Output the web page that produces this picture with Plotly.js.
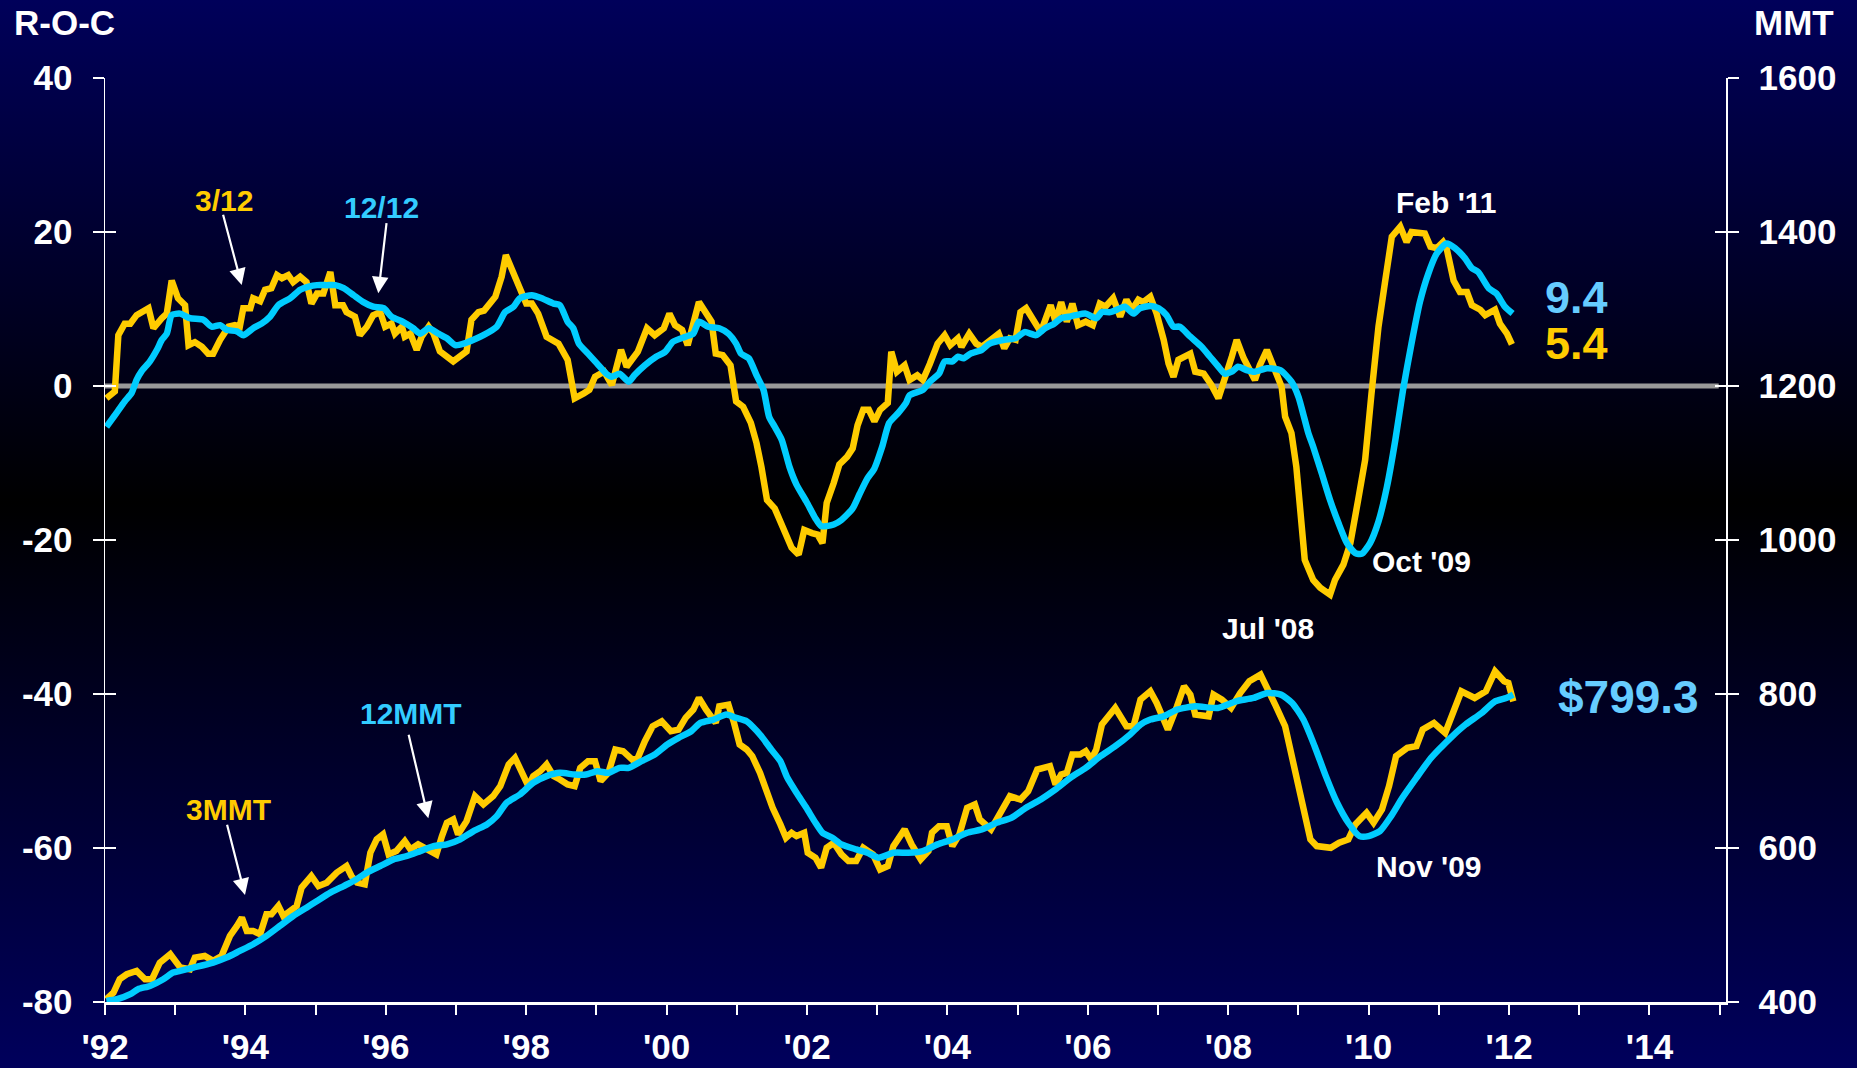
<!DOCTYPE html>
<html>
<head>
<meta charset="utf-8">
<script src="https://cdn.plot.ly/plotly-3.0.1.min.js"></script>
<style>
html,body{margin:0;padding:0;background:#000030;}
#chart{width:1857px;height:1068px;background:linear-gradient(to bottom,#00005A 0%,#000000 47%,#00005C 100%);}
</style>
</head>
<body>
<div id="chart"></div>
<script>
// ---- Data ----
// Upper panel: rate of change (left axis, R-O-C)
const roc3Years = [1992.02,1992.14,1992.19,1992.28,1992.36,1992.45,1992.62,1992.69,1992.81,1992.88,1992.95,1993.04,1993.14,1993.19,1993.28,1993.38,1993.47,1993.54,1993.64,1993.76,1993.85,1993.92,1993.97,1994.07,1994.11,1994.21,1994.28,1994.37,1994.45,1994.52,1994.61,1994.68,1994.78,1994.87,1994.94,1995.02,1995.11,1995.21,1995.28,1995.39,1995.44,1995.56,1995.63,1995.73,1995.82,1995.92,1995.99,1996.08,1996.13,1996.23,1996.27,1996.35,1996.44,1996.51,1996.61,1996.68,1996.77,1996.96,1997.15,1997.22,1997.32,1997.40,1997.56,1997.65,1997.71,1997.82,1997.94,1998.00,1998.08,1998.17,1998.29,1998.46,1998.59,1998.69,1998.82,1998.90,1998.98,1999.11,1999.22,1999.35,1999.43,1999.59,1999.72,1999.83,1999.96,2000.04,2000.12,2000.22,2000.30,2000.46,2000.64,2000.70,2000.80,2000.91,2000.99,2001.09,2001.20,2001.28,2001.35,2001.43,2001.54,2001.64,2001.78,2001.88,2001.96,2002.07,2002.15,2002.22,2002.28,2002.38,2002.46,2002.57,2002.65,2002.72,2002.80,2002.88,2002.96,2003.04,2003.15,2003.20,2003.28,2003.39,2003.46,2003.57,2003.65,2003.75,2003.86,2003.96,2004.04,2004.15,2004.20,2004.31,2004.41,2004.49,2004.60,2004.73,2004.81,2004.89,2004.97,2005.04,2005.12,2005.23,2005.33,2005.47,2005.54,2005.62,2005.70,2005.78,2005.86,2005.97,2006.07,2006.17,2006.25,2006.36,2006.46,2006.55,2006.63,2006.72,2006.79,2006.89,2006.98,2007.08,2007.15,2007.22,2007.29,2007.46,2007.53,2007.65,2007.76,2007.86,2007.95,2008.05,2008.12,2008.22,2008.38,2008.45,2008.55,2008.67,2008.76,2008.81,2008.90,2008.97,2009.02,2009.09,2009.21,2009.31,2009.45,2009.52,2009.64,2009.74,2009.85,2009.95,2010.04,2010.14,2010.23,2010.33,2010.45,2010.54,2010.61,2010.71,2010.80,2010.88,2010.97,2011.06,2011.11,2011.21,2011.30,2011.40,2011.47,2011.59,2011.66,2011.80,2011.87,2011.97,2012.04];
const roc3Values = [-1.6,-0.7,6.6,8.1,8.1,9.2,10.1,7.5,8.8,9.4,13.7,11.4,10.5,5.3,5.7,5.1,4.2,4.2,6.0,7.7,7.9,7.7,10.1,10.1,11.4,11.0,12.5,12.7,14.4,14.0,14.4,13.5,14.2,13.5,10.7,12.0,12.0,14.8,10.5,10.5,9.6,9.0,6.6,7.7,9.2,9.6,7.7,8.1,6.8,7.7,6.4,6.8,4.7,6.4,7.7,6.8,4.5,3.2,4.5,8.6,9.6,9.8,11.6,14.2,17.0,14.6,12.0,10.7,10.7,9.4,6.4,5.5,3.4,-1.6,-0.95,-0.5,1.2,1.86,0.13,4.7,2.5,4.45,7.5,6.6,7.5,9.4,7.9,7.3,5.3,10.9,8.35,4.2,4.0,2.7,-2.0,-2.7,-4.8,-7.4,-10.5,-14.8,-15.9,-18.2,-21.0,-21.9,-18.7,-19.1,-19.3,-20.4,-15.2,-12.6,-10.2,-9.2,-8.1,-5.1,-3.1,-3.1,-4.6,-3.1,-2.2,4.45,1.86,2.7,0.78,1.4,0.78,2.9,5.5,6.6,5.3,6.2,5.1,6.8,5.5,5.1,6.0,6.8,4.9,6.2,6.0,9.6,10.1,8.35,7.0,10.5,8.35,10.9,8.35,10.7,7.9,8.35,7.9,10.7,10.3,11.4,9.0,11.2,9.9,11.2,10.9,11.6,9.4,6.0,2.9,1.2,3.4,4.2,1.86,1.6,0.13,-1.6,0.78,3.8,6.0,3.6,0.78,2.7,4.67,2.07,-0.09,-4.0,-6.1,-10.5,-14.8,-22.6,-25.2,-26.2,-27.1,-25.2,-23.2,-20.4,-14.8,-9.6,-1.0,7.7,13.3,19.4,20.7,18.7,20.0,19.8,19.8,18.1,17.9,18.7,17.9,13.7,12.2,12.2,10.5,9.9,9.2,9.9,8.1,6.8,5.4];

const roc12Years = [1992.02,1992.14,1992.28,1992.38,1992.45,1992.52,1992.64,1992.74,1992.81,1992.88,1992.95,1993.07,1993.21,1993.40,1993.52,1993.64,1993.73,1993.88,1993.97,1994.11,1994.23,1994.35,1994.47,1994.64,1994.78,1994.90,1995.02,1995.16,1995.28,1995.40,1995.54,1995.68,1995.82,1995.97,1996.08,1996.25,1996.39,1996.49,1996.61,1996.75,1996.87,1996.99,1997.11,1997.25,1997.39,1997.58,1997.70,1997.82,1997.91,1998.08,1998.22,1998.39,1998.48,1998.59,1998.67,1998.75,1998.88,1999.01,1999.14,1999.22,1999.33,1999.46,1999.54,1999.69,1999.85,1999.98,2000.09,2000.27,2000.38,2000.46,2000.59,2000.75,2000.88,2000.99,2001.06,2001.17,2001.28,2001.38,2001.46,2001.54,2001.64,2001.75,2001.85,2001.99,2002.12,2002.20,2002.28,2002.38,2002.49,2002.65,2002.75,2002.86,2002.96,2003.07,2003.17,2003.30,2003.41,2003.46,2003.65,2003.75,2003.88,2003.96,2004.07,2004.15,2004.23,2004.33,2004.49,2004.60,2004.81,2004.97,2005.10,2005.26,2005.39,2005.52,2005.62,2005.73,2005.83,2005.97,2006.12,2006.20,2006.32,2006.46,2006.53,2006.65,2006.74,2006.89,2007.01,2007.12,2007.22,2007.31,2007.46,2007.62,2007.74,2007.86,2007.95,2008.05,2008.14,2008.26,2008.38,2008.55,2008.74,2008.90,2009.00,2009.14,2009.21,2009.33,2009.45,2009.57,2009.69,2009.81,2009.90,2010.02,2010.14,2010.26,2010.38,2010.49,2010.61,2010.73,2010.85,2010.97,2011.11,2011.23,2011.37,2011.47,2011.56,2011.71,2011.82,2011.94,2012.05];
const roc12Values = [-5.3,-3.8,-2.0,-0.9,0.8,1.9,3.2,4.7,6.0,6.8,9.2,9.4,8.8,8.6,7.7,7.9,7.3,7.1,6.6,7.5,8.1,9.0,10.5,11.4,12.5,12.9,13.1,13.1,13.1,12.7,11.8,10.9,10.3,10.1,9.0,8.3,7.5,6.8,7.5,6.8,6.2,5.3,5.5,6.0,6.6,7.7,9.6,10.3,11.4,11.8,11.4,10.7,10.5,8.35,7.5,5.5,4.2,2.9,1.6,1.2,1.6,0.56,1.4,2.7,3.8,4.45,5.75,6.4,6.8,8.35,7.7,7.5,6.8,5.5,4.2,3.6,1.4,-0.5,-4.0,-5.3,-7.0,-10.5,-12.8,-15.0,-17.2,-18.2,-18.2,-18.0,-17.4,-15.9,-14.0,-12.0,-10.7,-7.9,-4.8,-3.5,-2.2,-1.2,-0.5,0.56,1.6,3.2,3.2,3.8,3.6,4.2,4.7,5.5,6.0,6.2,7.0,6.6,7.5,8.1,8.8,9.0,9.2,9.4,8.8,9.6,9.6,10.1,10.3,9.4,10.1,10.4,10.1,9.2,7.7,7.7,6.4,5.1,3.8,2.5,1.6,1.86,2.5,2.07,1.86,2.3,2.07,0.56,-1.4,-6.1,-7.9,-11.3,-14.8,-17.8,-20.4,-21.7,-21.8,-20.4,-17.6,-13.1,-7.0,-0.5,5.5,10.9,14.6,17.2,18.5,17.9,16.6,15.3,14.8,12.7,12.0,10.3,9.4];

// Lower panel: moving totals (right axis, MMT)
const mmt3Years = [1992.02,1992.12,1992.21,1992.31,1992.45,1992.57,1992.67,1992.78,1992.93,1993.07,1993.21,1993.28,1993.42,1993.54,1993.66,1993.78,1993.88,1993.95,1994.02,1994.11,1994.21,1994.30,1994.37,1994.47,1994.54,1994.66,1994.73,1994.80,1994.94,1995.04,1995.16,1995.30,1995.44,1995.51,1995.59,1995.70,1995.78,1995.87,1995.96,1996.04,1996.15,1996.27,1996.35,1996.46,1996.58,1996.72,1996.80,1996.87,1996.96,1997.03,1997.15,1997.27,1997.39,1997.53,1997.63,1997.75,1997.84,1997.96,1998.03,1998.10,1998.20,1998.29,1998.39,1998.48,1998.59,1998.69,1998.77,1998.88,1998.98,1999.06,1999.17,1999.27,1999.38,1999.51,1999.59,1999.69,1999.80,1999.93,2000.06,2000.17,2000.27,2000.38,2000.46,2000.56,2000.70,2000.75,2000.88,2000.96,2001.04,2001.14,2001.22,2001.33,2001.41,2001.51,2001.62,2001.70,2001.78,2001.85,2001.96,2002.01,2002.12,2002.20,2002.28,2002.38,2002.49,2002.59,2002.70,2002.80,2002.94,2003.04,2003.15,2003.23,2003.39,2003.49,2003.62,2003.73,2003.78,2003.88,2003.99,2004.07,2004.17,2004.28,2004.39,2004.46,2004.62,2004.75,2004.89,2005.04,2005.15,2005.28,2005.46,2005.54,2005.62,2005.70,2005.78,2005.89,2005.97,2006.05,2006.12,2006.20,2006.39,2006.55,2006.65,2006.75,2006.89,2006.98,2007.14,2007.27,2007.37,2007.46,2007.53,2007.72,2007.79,2007.91,2008.04,2008.17,2008.30,2008.46,2008.56,2008.68,2008.81,2008.94,2009.07,2009.17,2009.26,2009.46,2009.58,2009.71,2009.81,2009.97,2010.07,2010.19,2010.29,2010.39,2010.55,2010.68,2010.77,2010.93,2011.09,2011.32,2011.51,2011.67,2011.80,2011.93,2011.99,2012.06];
const mmt3Values = [403.6,412,429.6,436,440.4,429.6,429.6,451,462,445,442.6,457.7,459.8,453.4,459.8,485.8,498.8,509.6,492.3,492.3,488,513.9,513.9,524.7,511.7,520.4,524.7,548.5,563.6,550.6,555,568,576.6,563.6,555,552.8,593.9,611.2,617.7,591.7,596,609,598.2,604.7,598.2,591.7,615.5,632.8,637.1,617.7,634.9,667.4,656.6,667.4,680.3,708.5,717.1,695.5,680.3,693.3,699.8,708.5,693.3,689,682.5,680.3,704,712.7,712.7,686.8,697.6,727.9,725.7,714.9,717.1,738.7,758.1,764.6,751.6,753.8,769,779.8,794.9,779.8,762.5,784.1,786.2,762.5,734.4,727.9,719.2,697.6,676,652.2,630.6,613.3,619.8,615.5,619.8,593.8,587.4,574.4,600.3,606.8,591.7,583,583,600.3,591.7,572.2,576.6,602.5,624.1,604.7,585.2,596,619.8,628.4,628.4,602.5,617.6,652.2,656.5,637.1,624.1,645.7,667.3,663,673.8,701.9,706.3,682.5,695.4,697.6,721.4,721.4,725.7,714.9,727.9,760.3,781.9,758.1,758.1,792.7,803.5,788.4,753.8,784,810,799.2,773.2,771,799.2,792.7,781.9,801.3,816.5,825.1,807.8,784,758.1,706.2,650,611.1,602.5,600.3,606.8,611.1,630.6,645.7,632.8,650,680.3,719.2,730,732.2,753.8,762.4,749.5,803.5,794.9,803.5,829.5,816.5,814.3,790.5];

const mmt12Years = [1992.02,1992.17,1992.36,1992.47,1992.64,1992.83,1992.97,1993.07,1993.26,1993.54,1993.73,1993.92,1994.11,1994.30,1994.49,1994.68,1994.87,1995.02,1995.21,1995.40,1995.54,1995.73,1995.92,1996.11,1996.30,1996.49,1996.68,1996.87,1997.06,1997.25,1997.44,1997.58,1997.72,1997.91,1998.10,1998.29,1998.48,1998.69,1998.85,1999.01,1999.17,1999.33,1999.46,1999.64,1999.83,2000.01,2000.17,2000.35,2000.48,2000.67,2000.85,2000.99,2001.14,2001.22,2001.35,2001.49,2001.62,2001.72,2001.85,2001.99,2002.12,2002.22,2002.36,2002.49,2002.70,2002.86,2003.02,2003.23,2003.44,2003.65,2003.86,2004.07,2004.28,2004.49,2004.70,2004.91,2005.12,2005.33,2005.54,2005.75,2005.97,2006.18,2006.39,2006.60,2006.75,2006.89,2007.08,2007.27,2007.53,2007.85,2008.11,2008.36,2008.56,2008.75,2008.91,2009.07,2009.23,2009.39,2009.55,2009.71,2009.87,2010.00,2010.16,2010.32,2010.48,2010.68,2010.87,2011.00,2011.19,2011.38,2011.61,2011.80,2011.96,2012.06];
const mmt12Values = [401.5,403.6,410.1,416.6,420.9,429.6,438.2,440.4,444.7,451.2,457.7,466.3,475,485.8,498.8,511.7,522.5,531.2,542,550.6,557.1,568,576.6,585.2,589.6,596,602.5,604.7,611.2,622,630.6,641.4,658.7,669.5,684.7,693.3,697.6,695.4,695.4,699.8,697.6,704.1,704.1,712.7,721.4,734.4,743,751.6,762.5,766.8,773.3,769,764.6,758.1,745.2,727.9,712.7,691.1,671.7,652.2,632.8,619.8,613.3,604.7,598.2,593.8,587.4,593.8,593.8,596,604.7,611.1,619.8,624.1,632.8,639.2,652.2,663,676,691.1,704.1,719.2,732.2,747.3,760.3,766.8,771,779.7,784,781.9,790.5,794.9,801.3,799.2,788.4,766.8,732.2,693.3,658.7,632.8,615.4,615.4,621.9,641.4,665.2,691.1,714.9,727.8,745.1,760.3,775.4,790.5,794.9,799.3];

// Axis ticks
const xTickYears = [1992,1993,1994,1995,1996,1997,1998,1999,2000,2001,2002,2003,2004,2005,2006,2007,2008,2009,2010,2011,2012,2013,2014,2015];
const xTickLabels = ["'92","","'94","","'96","","'98","","'00","","'02","","'04","","'06","","'08","","'10","","'12","","'14",""];
const rocTicks = [-80,-60,-40,-20,0,20,40];
const rocTickLabels = ["-80","-60","-40","-20","0","20","40"];
const mmtTicks = [400,600,800,1000,1200,1400,1600];
const mmtTickLabels = ["400","600","800","1000","1200","1400","1600"];

// ---- Styling ----
const ORANGE = '#FFCC00';
const CYAN = '#00CCFF';
const LIGHTBLUE = '#66CCFF';
const FONT = 'Liberation Sans, Arial, Helvetica, sans-serif';
const tickFont = {family: FONT, size: 35, color: 'white', weight: 'bold'};
const LW = 6.5;

const traces = [
  {x: roc3Years, y: roc3Values, yaxis: 'y', type: 'scatter', mode: 'lines',
   line: {color: ORANGE, width: LW}, hoverinfo: 'skip'},
  {x: roc12Years, y: roc12Values, yaxis: 'y', type: 'scatter', mode: 'lines',
   line: {color: CYAN, width: LW, shape: 'spline', smoothing: 0.6}, hoverinfo: 'skip'},
  {x: mmt3Years, y: mmt3Values, yaxis: 'y2', type: 'scatter', mode: 'lines',
   line: {color: ORANGE, width: LW}, hoverinfo: 'skip'},
  {x: mmt12Years, y: mmt12Values, yaxis: 'y2', type: 'scatter', mode: 'lines',
   line: {color: CYAN, width: LW, shape: 'spline', smoothing: 0.6}, hoverinfo: 'skip'},
  {x: [null], y: [null], yaxis: 'y3', type: 'scatter', mode: 'lines', hoverinfo: 'skip', showlegend: false},
  {x: [null], y: [null], yaxis: 'y4', type: 'scatter', mode: 'lines', hoverinfo: 'skip', showlegend: false}
];

function px(x){ return (x - 105) / 1621; }
function py(y){ return (1002 - y) / 924; }

function label(text, left, cy, color, size){
  return {text: text, x: px(left), y: py(cy), xref: 'paper', yref: 'paper',
          xanchor: 'left', yanchor: 'middle', showarrow: false,
          font: {family: FONT, size: size, color: color, weight: 'bold'}};
}
function arrow(hx, hy, tx, ty){
  return {text: '', x: px(hx), y: py(hy), xref: 'paper', yref: 'paper',
          ax: tx - hx, ay: ty - hy, showarrow: true, arrowhead: 2,
          arrowsize: 1.5, arrowwidth: 2.2, arrowcolor: 'white', standoff: 0};
}

const annotations = [
  label('R-O-C', 12, 22.5, 'white', 35),
  label('MMT', 1752, 22, 'white', 35),
  label('3/12', 193, 200, ORANGE, 30),
  label('12/12', 342, 208, '#33CCFF', 30),
  label("Feb '11", 1394, 202, 'white', 30),
  label('9.4', 1543, 297, LIGHTBLUE, 45),
  label('5.4', 1543, 344, ORANGE, 45),
  label("Oct '09", 1370, 561, 'white', 30),
  label("Jul '08", 1220, 628, 'white', 30),
  label('$799.3', 1556, 697, LIGHTBLUE, 46),
  label('12MMT', 358, 713, '#33CCFF', 30),
  label('3MMT', 184, 809, ORANGE, 30),
  label("Nov '09", 1374, 866, 'white', 30),
  arrow(241.7, 285, 222.7, 213.3),
  arrow(378.3, 293.3, 386.7, 221.7),
  arrow(428.3, 818.3, 408.3, 733.3),
  arrow(245, 895, 226.7, 823.3)
];

const yCommon = {
  showgrid: false, zeroline: false, showline: true, linecolor: 'white', linewidth: 1.5,
  ticks: 'outside', ticklen: 11, tickwidth: 1.5, tickcolor: 'white',
  tickfont: tickFont, ticklabelstandoff: 13, fixedrange: true
};

const layout = {
  width: 1857, height: 1068,
  margin: {l: 105, r: 131, t: 78, b: 66, pad: 0},
  paper_bgcolor: 'rgba(0,0,0,0)', plot_bgcolor: 'rgba(0,0,0,0)',
  showlegend: false,
  font: {family: FONT, color: 'white'},
  xaxis: {
    range: [1992, 2015.09], tickmode: 'array', tickvals: xTickYears, ticktext: xTickLabels,
    showgrid: false, zeroline: false, showline: true, linecolor: 'white', linewidth: 2.5,
    ticks: 'outside', ticklen: 10, tickwidth: 2, tickcolor: 'white',
    tickfont: tickFont, ticklabelstandoff: 2, fixedrange: true
  },
  yaxis: Object.assign({range: [-80, 40], tickmode: 'array', tickvals: rocTicks, ticktext: rocTickLabels, side: 'left'}, yCommon),
  yaxis2: Object.assign({range: [400, 1600], tickmode: 'array', tickvals: mmtTicks, ticktext: mmtTickLabels, side: 'right', overlaying: 'y', anchor: 'x'}, yCommon),
  yaxis3: {range: [-80, 40], tickmode: 'array', tickvals: rocTicks, side: 'left', overlaying: 'y', anchor: 'x',
           showgrid: false, zeroline: false, showline: false, ticks: 'inside', ticklen: 11, tickwidth: 1.5,
           tickcolor: 'white', showticklabels: false, fixedrange: true},
  yaxis4: {range: [400, 1600], tickmode: 'array', tickvals: mmtTicks, side: 'right', overlaying: 'y', anchor: 'x',
           showgrid: false, zeroline: false, showline: false, ticks: 'inside', ticklen: 11, tickwidth: 1.5,
           tickcolor: 'white', showticklabels: false, fixedrange: true},
  shapes: [
    {type: 'line', xref: 'paper', yref: 'y', x0: 0, x1: 0.9955, y0: 0, y1: 0,
     line: {color: '#999999', width: 5}, layer: 'below'}
  ],
  annotations: annotations
};

Plotly.newPlot('chart', traces, layout, {displayModeBar: false, staticPlot: true});
</script>
</body>
</html>
